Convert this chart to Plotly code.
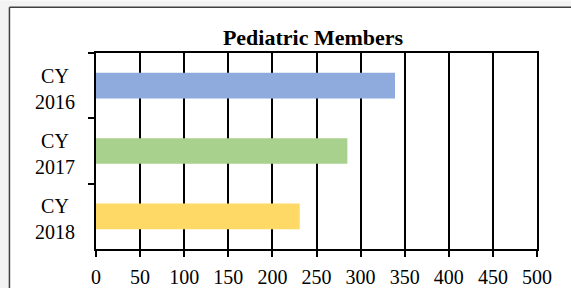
import plotly.graph_objects as go

categories = ["CY 2016", "CY 2017", "CY 2018"]
tick_labels = ["CY<br>2016", "CY<br>2017", "CY<br>2018"]
values = [339, 285, 231]
bar_colors = ["#8faadc", "#a9d18e", "#ffd966"]
x_ticks = [0, 50, 100, 150, 200, 250, 300, 350, 400, 450, 500]

W, H = 571, 288
L, R, T, B = 96, 34.3, 52.7, 39
pw = W - L - R
ph = H - T - B

def px_x(p):
    return (p - L) / pw

def px_y(p):
    return (H - B - p) / ph

font = "Liberation Serif, Times New Roman, serif"

fig = go.Figure(go.Bar(
    y=categories, x=values, orientation="h",
    marker=dict(color=bar_colors, line=dict(width=0)),
    hoverinfo="skip",
))

annotations = [
    dict(x=px_x(55.5), xref="paper", y=c, yref="y", text=t, showarrow=False,
         xanchor="center", yanchor="middle", align="center", yshift=-3,
         font=dict(family=font, size=20, color="black"))
    for c, t in zip(categories, tick_labels)
]

fig.update_layout(
    width=W, height=H,
    margin=dict(l=L, r=R, t=T, b=B, pad=0, autoexpand=False),
    paper_bgcolor="white",
    plot_bgcolor="white",
    bargap=0.607,
    showlegend=False,
    title=dict(text="<b>Pediatric Members</b>", x=313 / W, xref="container",
               xanchor="center", y=1 - 37 / H, yref="container", yanchor="middle",
               font=dict(family=font, size=22, color="black")),
    xaxis=dict(range=[0, 500], tickvals=x_ticks, ticktext=[str(v) for v in x_ticks],
               showgrid=True, gridcolor="black", gridwidth=1.5, zeroline=False,
               showline=True, linecolor="black", linewidth=1.5, mirror=True,
               ticks="outside", ticklen=6, tickwidth=1.5, tickcolor="black",
               ticklabelstandoff=3, automargin=False,
               tickfont=dict(family=font, size=20, color="black"), fixedrange=True),
    yaxis=dict(type="category", categoryarray=categories, autorange="reversed",
               showgrid=False, zeroline=False, showline=True, linecolor="black",
               linewidth=1.5, mirror=True, ticks="outside", tickson="boundaries",
               ticklen=6, tickwidth=1.5, tickcolor="black", showticklabels=False,
               automargin=False, fixedrange=True),
    annotations=annotations,
    shapes=[
        dict(type="rect", xref="paper", yref="paper", layer="below",
             x0=px_x(0), x1=px_x(W), y0=px_y(7), y1=px_y(0),
             fillcolor="#f3f3f3", line=dict(width=0)),
        dict(type="rect", xref="paper", yref="paper", layer="below",
             x0=px_x(0), x1=px_x(9.5), y0=px_y(H), y1=px_y(0),
             fillcolor="#f3f3f3", line=dict(width=0)),
        dict(type="line", xref="paper", yref="paper", layer="below",
             x0=px_x(9.5), x1=px_x(W), y0=px_y(7), y1=px_y(7),
             line=dict(color="#404040", width=1.5)),
        dict(type="line", xref="paper", yref="paper", layer="below",
             x0=px_x(9.5), x1=px_x(9.5), y0=px_y(7), y1=px_y(H),
             line=dict(color="#404040", width=1.5)),
    ],
)

page_js = (
    "var s=document.createElement('style');"
    "s.textContent='html,body{margin:0;padding:0;overflow:hidden;scrollbar-width:none;}"
    "::-webkit-scrollbar{display:none;width:0;height:0;}';"
    "document.head.appendChild(s);"
)

fig.write_html("out.html", config={"displayModeBar": False}, post_script=page_js)
